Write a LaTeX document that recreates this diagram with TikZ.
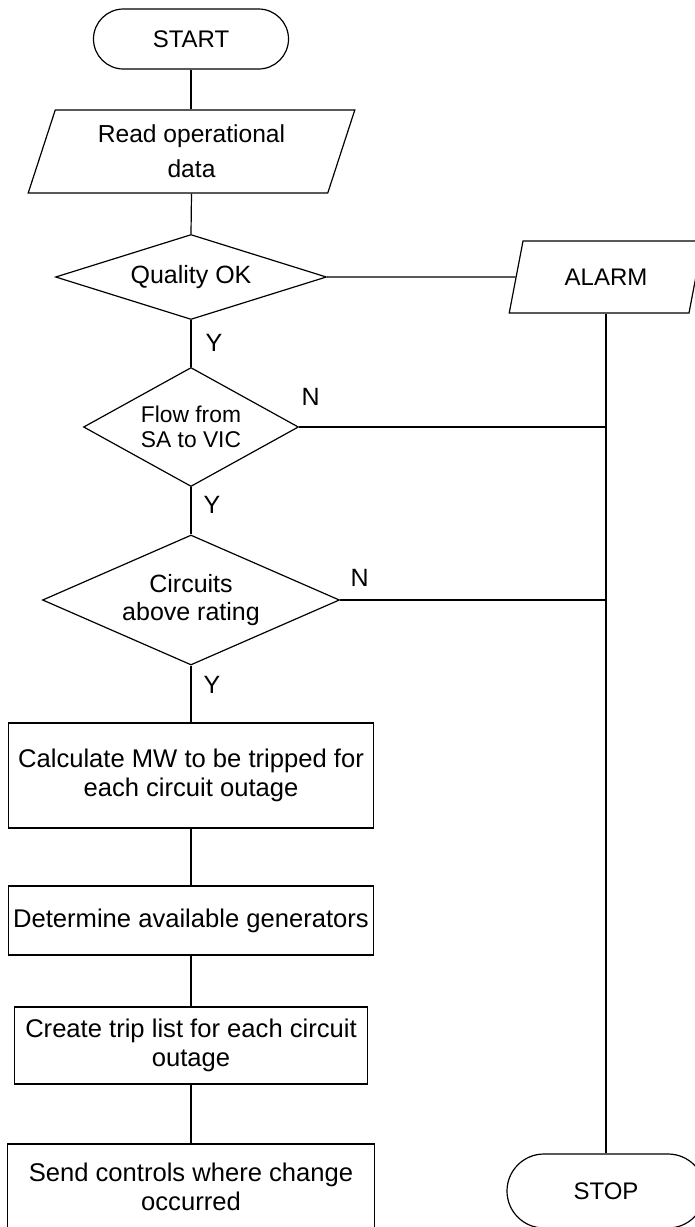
\documentclass[tikz,border=0pt]{standalone}
\usepackage{fontspec}
\setmainfont{Liberation Sans}
\usepackage{tikz}
\usetikzlibrary{shapes.geometric}
\usetikzlibrary{calc}

\begin{document}
\begin{tikzpicture}[x=0.5pt, y=-0.5pt]
        % ================= 样式定义 =================
        \tikzset{
            % 起止框:圆头矩形
            term_node/.style={draw=black, line width=0.6pt, rectangle, rounded corners=15pt, inner sep=0pt, align=center, font=\fontsize{12}{14}\selectfont},
            % 输入输出框:平行四边形
            io_node/.style={draw=black, line width=0.6pt, trapezium, trapezium stretches=true, inner sep=0pt, align=center, font=\fontsize{12.3}{17.5}\selectfont},
            % 判断框:菱形
            dec_node/.style={draw=black, line width=0.6pt, diamond, inner sep=0pt, align=center, font=\fontsize{12.5}{14}\selectfont},
            % 处理框:矩形
            proc_node/.style={draw=black, line width=0.6pt, rectangle, inner sep=0pt, align=center, font=\fontsize{12.8}{14.5}\selectfont},
            % 连线
            flow_line/.style={line width=0.6pt, black},
            % Y / N 标注
            yn_label/.style={inner sep=0pt, font=\fontsize{12.5}{14}\selectfont}
        }

        % 画布范围 (右侧 ALARM / STOP 被裁切)
        \useasboundingbox (0,0) rectangle (695,1227);
        \clip (0,0) rectangle (695,1227);

        % ================= 主流程 =================
        \node[term_node, minimum width=97.5pt, minimum height=30pt] (start) at (191,39) {START};
        \node[io_node, trapezium left angle=70.7, trapezium right angle=109.3, minimum width=163.5pt, minimum height=41.5pt] (read) at (191.5,151.5) {Read operational\\data};
        \node[dec_node, aspect=3.19, minimum width=135.5pt, minimum height=42.5pt] (quality) at (191,277) {Quality OK};
        \node[dec_node, aspect=1.81, minimum width=107.5pt, minimum height=59.5pt, font=\fontsize{11.4}{12.5}\selectfont] (flow) at (191,427) {Flow from\\SA to VIC};
        \node[dec_node, aspect=2.28, minimum width=148.5pt, minimum height=65pt] (circuits) at (191,600) {Circuits\\above rating};
        \node[proc_node, minimum width=182.5pt, minimum height=52.5pt] (calc) at (191,775.5) {Calculate MW to be tripped for\\each circuit outage};
        \node[proc_node, minimum width=182.5pt, minimum height=34.5pt] (gens) at (191,920.5) {Determine available generators};
        \node[proc_node, minimum width=176.5pt, minimum height=38.5pt] (trip) at (191,1045.5) {Create trip list for each circuit\\outage};
        \node[proc_node, minimum width=183.5pt, minimum height=43pt] (send) at (191,1187) {Send controls where change\\occurred};

        % ================= 报警分支 =================
        \node[io_node, trapezium left angle=67.4, trapezium right angle=112.6, minimum width=97pt, minimum height=36pt, font=\fontsize{12}{14}\selectfont] (alarm) at (606,277) {ALARM};
        \node[term_node, rounded corners=18.5pt, minimum width=99pt, minimum height=37pt] (stop) at (606,1191) {STOP};

        % 主干连线
        \draw[flow_line] (start.south) -- (start.south |- read.north);
        \draw[flow_line] (read.south -| read.center) -- (quality.north);
        \draw[flow_line] (quality.east) -- (alarm.west);
        \draw[flow_line] (quality.south) -- node[yn_label, pos=0.48, right=7pt] {Y} (flow.north);
        \draw[flow_line] (flow.south) -- node[yn_label, pos=0.375, right=6pt] {Y} (circuits.north);
        \draw[flow_line] (circuits.south) -- node[yn_label, pos=0.34, right=6pt] {Y} (calc.north);
        \draw[flow_line] (calc) -- (gens);
        \draw[flow_line] (gens) -- (trip);
        \draw[flow_line] (trip) -- (send);

        % 右侧干线与 N 分支
        \coordinate (alarm_foot) at (alarm.south -| alarm.center);
        \coordinate (j_flow) at (flow.east -| alarm.center);
        \coordinate (j_circ) at (circuits.east -| alarm.center);
        \draw[flow_line] (alarm_foot) -- (stop.north);
        \draw[flow_line] (flow.east) -- node[yn_label, pos=0, anchor=south west, xshift=1pt, yshift=10.5pt] {N} (j_flow);
        \draw[flow_line] (circuits.east) -- node[yn_label, pos=0, anchor=south west, xshift=5pt, yshift=6.5pt] {N} (j_circ);

    \end{tikzpicture}
\end{document}
